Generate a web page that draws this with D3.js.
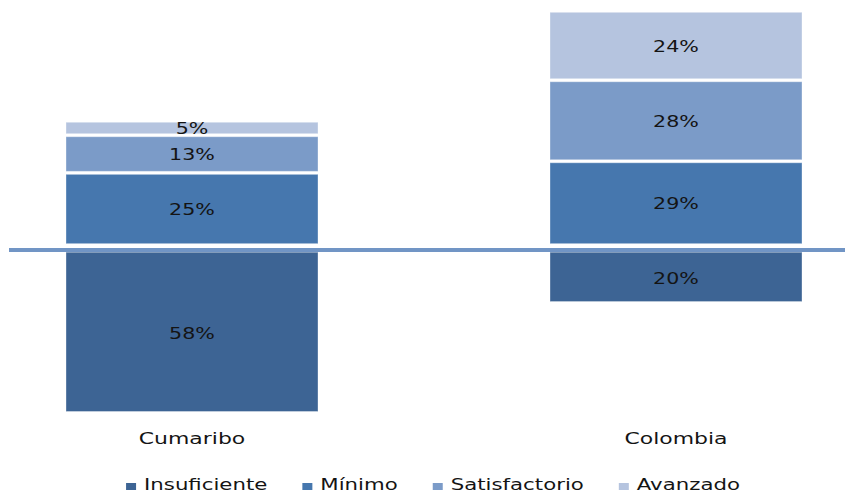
<!DOCTYPE html>
<html>
<head>
<meta charset="utf-8">
<script src="https://cdn.jsdelivr.net/npm/d3@7"></script>
<style>
  body { margin: 0; background: #fff; }
  text { font-family: "DejaVu Sans", Verdana, sans-serif; fill: #141414; }
</style>
</head>
<body>
<svg width="845" height="495"></svg>
<script>
var categories = ["Cumaribo", "Colombia"];
var levels = ["Insuficiente", "Mínimo", "Satisfactorio", "Avanzado"];
var insuficiente = [58, 20];
var minimo = [25, 29];
var satisfactorio = [13, 28];
var avanzado = [5, 24];
var colors = ["#3d6494", "#4677ae", "#7b9bc8", "#b5c4df"];

var series = [insuficiente, minimo, satisfactorio, avanzado];

var svg = d3.select("svg"),
    width = +svg.attr("width"),
    height = +svg.attr("height");

var stretch = 1.33; // the original picture is stretched sideways
var barW = 252;

var x = d3.scalePoint()
    .domain(categories)
    .range([192, 676]);

// rows: one per category, upper segments stacked from zero, insuficiente below
var rows = categories.map(function(c, i) {
  var r = { cat: c };
  levels.forEach(function(l, j) { r[l] = series[j][i]; });
  return r;
});

var upper = d3.stack().keys(levels.slice(1))(rows);

var maxUp = d3.max(rows, function(r) { return r["Mínimo"] + r["Satisfactorio"] + r["Avanzado"]; });
var maxDown = d3.max(insuficiente);

var y = d3.scaleLinear()
    .domain([-maxDown, maxUp])
    .range([413, 10.8]);

var gap = 1.5;

var g = svg.append("g");

// upper segments
upper.forEach(function(s) {
  var j = levels.indexOf(s.key);
  g.selectAll(null)
    .data(s)
    .enter().append("rect")
      .attr("x", function(d) { return x(d.data.cat) - barW / 2; })
      .attr("y", function(d) { return y(d[1]) + gap; })
      .attr("width", barW)
      .attr("height", function(d) { return Math.max(0, y(d[0]) - y(d[1]) - 2 * gap); })
      .attr("fill", colors[j])
      .attr("stroke", "rgba(255,255,255,0.35)")
      .attr("stroke-width", 1);

  g.selectAll(null)
    .data(s)
    .enter().append("text")
      .attr("transform", function(d) {
        return "translate(" + x(d.data.cat) + "," + ((y(d[0]) + y(d[1])) / 2 + 6) + ") scale(" + stretch + ",1)";
      })
      .attr("text-anchor", "middle")
      .style("font-size", "15.5px")
      .text(function(d) { return (d[1] - d[0]) + "%"; });
});

// insuficiente below the zero line
var lowTop = y(0) + 7;
g.selectAll(null)
  .data(rows)
  .enter().append("rect")
    .attr("x", function(d) { return x(d.cat) - barW / 2; })
    .attr("y", lowTop)
    .attr("width", barW)
    .attr("height", function(d) { return y(-d["Insuficiente"]) - gap - lowTop; })
    .attr("fill", colors[0])
    .attr("stroke", "rgba(255,255,255,0.35)")
    .attr("stroke-width", 1);

g.selectAll(null)
  .data(rows)
  .enter().append("text")
    .attr("transform", function(d) {
      return "translate(" + x(d.cat) + "," + ((lowTop + y(-d["Insuficiente"])) / 2 + 6) + ") scale(" + stretch + ",1)";
    })
    .attr("text-anchor", "middle")
    .style("font-size", "15.5px")
    .text(function(d) { return d["Insuficiente"] + "%"; });

// zero line
svg.append("line")
    .attr("x1", 9).attr("x2", width)
    .attr("y1", y(0) + 4.8).attr("y2", y(0) + 4.8)
    .attr("stroke", "#7195c5")
    .attr("stroke-width", 4);

// category labels
svg.selectAll(null)
  .data(categories)
  .enter().append("text")
    .attr("transform", function(d) { return "translate(" + x(d) + ",444) scale(" + stretch + ",1)"; })
    .attr("text-anchor", "middle")
    .style("font-size", "16.5px")
    .text(function(d) { return d; });

// legend
var legend = svg.append("g");
var items = legend.selectAll("g")
  .data(levels)
  .enter().append("g");

items.append("rect")
    .attr("width", 10).attr("height", 7)
    .attr("y", -7)
    .attr("fill", function(d, i) { return colors[i]; });

items.append("text")
    .attr("transform", "translate(18,0) scale(" + stretch + ",1)")
    .style("font-size", "16px")
    .text(function(d) { return d; });

var spacing = 35;
var pos = 0;
items.each(function() {
  var t = d3.select(this).select("text").node();
  var w = 18 + t.getComputedTextLength() * stretch;
  d3.select(this).attr("data-x", pos);
  pos += w + spacing;
});
var total = pos - spacing;
var startX = 433 - total / 2;
items.attr("transform", function() {
  return "translate(" + (startX + +d3.select(this).attr("data-x")) + ",490)";
});
</script>
</body>
</html>
